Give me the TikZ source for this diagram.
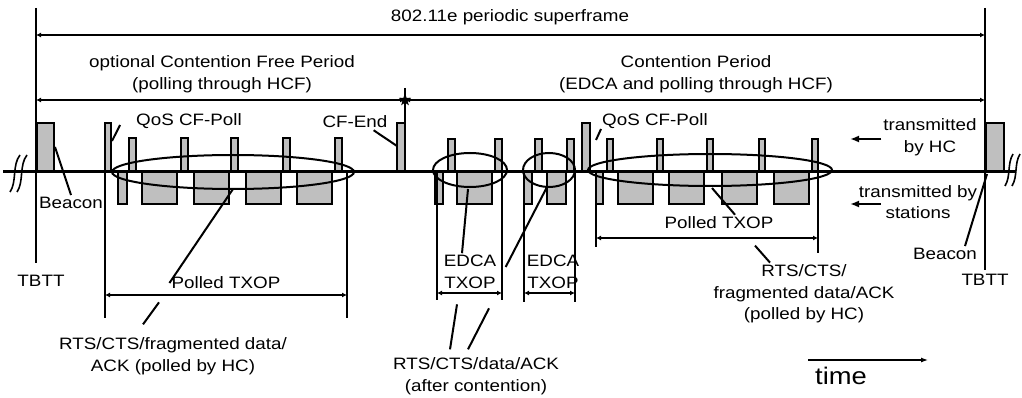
\documentclass[tikz,border=0pt]{standalone}
\usepackage{fontspec}
\setmainfont{Liberation Sans}[FakeStretch=1.14]
\usetikzlibrary{arrows.meta,shapes.geometric}

\tikzset{
  frame/.style={draw, fill=gray!50, line width=1.7pt},
  lbl/.style={font=\fontsize{16.5}{21.5}\selectfont, align=center, inner sep=2pt},
  ptr/.style={line width=2pt},
  tick/.style={line width=1.5pt},
  dim/.style={line width=1.8pt, {Latex[length=5pt,width=5pt]}-{Latex[length=5pt,width=5pt]}},
  txop/.style={line width=2pt},
}

\begin{document}
\begin{tikzpicture}[x=1pt,y=-1pt]
    \useasboundingbox (0,0) rectangle (1022,398);
    % TBTT markers
    \draw[line width=2.8pt] (36,8) -- (36,263);
    \draw[line width=2.8pt] (985,8) -- (985,270);
    \node[lbl] (tbttL) at (41,281) {TBTT};
    \node[lbl] (tbttR) at (985,280) {TBTT};
    % Superframe
    \draw[dim] (36,35) -- (985,35);
    \node[lbl] (superframe) at (510,17) {802.11e periodic superframe};
    % CFP and CP
    \node[star, star points=5, star point ratio=2.4, fill, minimum size=13pt, inner sep=0pt] (cfpEnd) at (405,100) {};
    \draw[dim] (36,100) -- (cfpEnd.center);
    \draw[dim] (cfpEnd.center) -- (985,100);
    \draw[tick] (405,88) -- (405,172);
    \node[lbl] (cfp) at (222,74) {optional Contention Free Period\\(polling through HCF)};
    \node[lbl] (cp) at (696,74) {Contention Period\\(EDCA and polling through HCF)};
    % HC frames (above the time line)
    \draw[frame] (37,123) rectangle (54,172);
    \draw[frame] (105,123) rectangle (111,172);
    \foreach \x in {129,181,231,283,335}
        \draw[frame] (\x,138) rectangle ++(7,34);
    \draw[frame] (397,123) rectangle (405,172);
    \foreach \x in {448,495,535,567}
        \draw[frame] (\x,139) rectangle ++(7,33);
    \draw[frame] (582,123) rectangle (590,172);
    \foreach \x in {607,657,707,759,812}
        \draw[frame] (\x,139) rectangle ++(6,33);
    \draw[frame] (986,123) rectangle (1004,172);
    % station frames (below the time line)
    \draw[frame] (118,172) rectangle (127,204);
    \foreach \x in {142,194,246,297}
        \draw[frame] (\x,172) rectangle ++(35,32);
    \draw[frame] (435,172) rectangle (443,204);
    \draw[frame] (457,172) rectangle (492,204);
    \draw[frame] (524,172) rectangle (532,204);
    \draw[frame] (547,172) rectangle (566,204);
    \draw[frame] (596,172) rectangle (603,204);
    \foreach \x in {618,669,722,774}
        \draw[frame] (\x,172) rectangle ++(35,32);
    % time line with breaks
    \draw[line width=3pt] (3,172) -- (1016,172);
    \draw[line width=1.6pt] (10,192) .. controls (17,182) and (12,165) .. (20,155);
    \draw[line width=1.6pt] (17,192) .. controls (24,182) and (19,165) .. (27,155);
    \draw[line width=1.6pt] (1005,186) .. controls (1011,176) and (1007,164) .. (1013,154);
    \draw[line width=1.6pt] (1012,186) .. controls (1018,176) and (1014,164) .. (1020,154);
    % TXOP groups
    \draw[txop] (233,172) ellipse [x radius=121pt, y radius=17pt];
    \draw[txop] (470,170) ellipse [x radius=37pt, y radius=17pt];
    \draw[txop] (549,170) ellipse [x radius=26pt, y radius=17pt];
    \draw[txop] (710,170) ellipse [x radius=122pt, y radius=16pt];
    % TXOP extents
    \draw[tick] (105,172) -- (105,318);
    \draw[tick] (347,172) -- (347,318);
    \draw[dim] (105,295) -- (347,295);
    \draw[tick] (437,172) -- (437,300);
    \draw[tick] (502,172) -- (502,300);
    \draw[dim] (437,293) -- (502,293);
    \draw[tick] (524,172) -- (524,302);
    \draw[tick] (575,172) -- (575,302);
    \draw[dim] (524,293) -- (575,293);
    \draw[tick] (596,172) -- (596,247);
    \draw[tick] (818,172) -- (818,253);
    \draw[dim] (596,238) -- (818,238);
    % labels in the CFP
    \coordinate (bcnL) at (55,147);
    \node[lbl] (beaconL) at (71,203) {Beacon};
    \draw[ptr] (bcnL) -- (beaconL.north);
    \coordinate (pollBarL) at (112,141);
    \node[lbl] (pollL) at (189,121) {QoS CF-Poll};
    \draw[ptr] ([shift={(-14,4)}]pollL.west) -- (pollBarL);
    \coordinate (endBar) at (397,146);
    \node[lbl] (cfEnd) at (355,122) {CF-End};
    \draw[ptr] ([xshift=-16pt]cfEnd.south east) -- (endBar);
    \coordinate (grpL) at (233,189);
    \node[lbl] (polledL) at (226,283) {Polled TXOP};
    \draw[ptr] (polledL.west) -- (grpL);
    \node[lbl] (rtsL) at (173,356) {RTS/CTS/fragmented data/\\ACK (polled by HC)};
    \draw[ptr] ([shift={(-30,-11)}]rtsL.north) -- ++(16,-22);
    % labels in the CP
    \coordinate (grpE1) at (468,189);
    \node[lbl] (edcaA) at (470,272) {EDCA\\TXOP};
    \draw[ptr] ([xshift=-8pt]edcaA.north) -- (grpE1);
    \coordinate (grpE2) at (547,187);
    \node[lbl] (edcaB) at (553,272) {EDCA\\TXOP};
    \draw[ptr] ([shift={(-19,-5)}]edcaB.west) -- (grpE2);
    \node[lbl] (rtsM) at (476,376) {RTS/CTS/data/ACK\\(after contention)};
    \draw[ptr] ([shift={(-26,-6)}]rtsM.north) -- ++(7,-45);
    \draw[ptr] ([shift={(-8,-6)}]rtsM.north) -- ++(21,-41);
    \coordinate (pollBarR) at (596,140);
    \node[lbl] (pollR) at (655,121) {QoS CF-Poll};
    \draw[ptr] ([shift={(1,8)}]pollR.west) -- (pollBarR);
    \coordinate (grpR) at (712,188);
    \node[lbl] (polledR) at (719,223) {Polled TXOP};
    \draw[ptr] ([xshift=16pt]polledR.north) -- (grpR);
    \node[lbl] (rtsR) at (804,294) {RTS/CTS/\\fragmented data/ACK\\(polled by HC)};
    \draw[ptr] ([xshift=-34pt]rtsR.north) -- ++(-15,-17);
    % legend on the right
    \node[lbl] (hcTx) at (930,137) {transmitted\\by HC};
    \coordinate (hcHead) at (850,139);
    \draw[ptr, -{Latex[length=9pt,width=7pt]}] ([yshift=-2pt]hcTx.west) -- (hcHead);
    \node[lbl] (staTx) at (918,202) {transmitted by\\stations};
    \coordinate (staHead) at (850,204);
    \draw[ptr, -{Latex[length=9pt,width=7pt]}] ([shift={(24,2)}]staTx.west) -- (staHead);
    \coordinate (bcnR) at (987,174);
    \node[lbl] (beaconR) at (945,254) {Beacon};
    \draw[ptr] ([xshift=20pt]beaconR.north) -- (bcnR);
    % time arrow
    \coordinate (t0) at (808,360);
    \coordinate (t1) at (928,360);
    \draw[line width=1.2pt, -{Latex[length=7pt,width=5pt]}] (t0) -- (t1);
    \node[font=\fontsize{24}{28}\selectfont, inner sep=1pt] (time) at (841,376) {time};
\end{tikzpicture}
\end{document}
